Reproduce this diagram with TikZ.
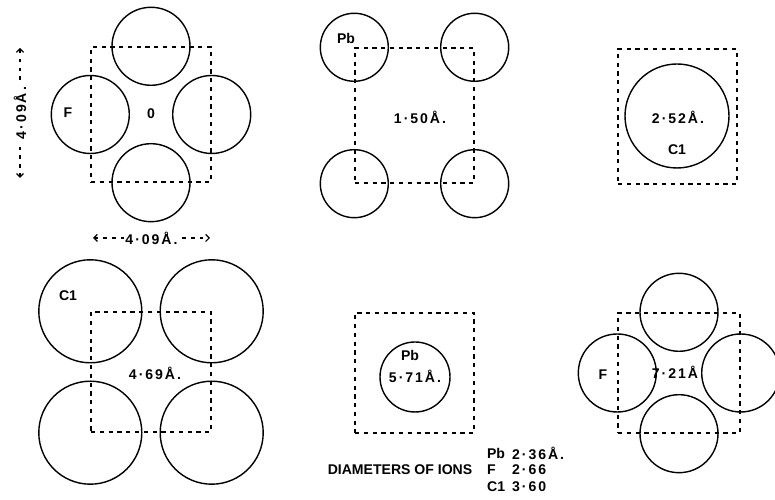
\documentclass[tikz,border=0pt]{standalone}
\usepackage{fontspec}
\setmainfont{Liberation Sans}
\newfontfamily\numfont[LetterSpace=14]{Liberation Sans}
\usetikzlibrary{arrows.meta}

\begin{document}
\begin{tikzpicture}[
    cell/.style={rectangle, draw, dash pattern=on 2.4pt off 2.6pt, line width=0.8pt, inner sep=0pt},
    ion/.style={circle, draw, line width=0.8pt, inner sep=0pt, minimum size=#1},
    lbl/.style={font=\fontsize{8}{9}\selectfont\bfseries, inner sep=1pt},
    num/.style={font=\fontsize{8}{9}\numfont\bfseries, inner sep=1pt},
    dim/.style={{Straight Barb[length=2pt,width=4pt]}-{Straight Barb[length=2pt,width=4pt]}, dash pattern=on 2pt off 3pt, line width=0.7pt},
]
    \useasboundingbox (0,0) rectangle (15.5,10);

    % Height 0 (F)
    \node[cell, minimum width=2.4cm, minimum height=2.7cm] (c0) at (3.02,7.71) {};
    \node[ion=1.56cm] (f0t) at (c0.north) {};
    \node[ion=1.56cm] (f0b) at (c0.south) {};
    \node[ion=1.56cm] (f0l) at (c0.west) {};
    \node[ion=1.56cm] (f0r) at (c0.east) {};
    \node[lbl] (f0lab) at (1.36,7.74) {F};
    \node[lbl] (h0lab) at (3.02,7.72) {0};

    % cell dimensions
    \coordinate (v0a) at (0.40,9.04);
    \coordinate (v0b) at (0.40,6.44);
    \draw[dim] (v0b) -- (v0a) node[midway, num, fill=white, rotate=90] {4·09Å.};
    \coordinate (h0a) at (1.86,5.24);
    \coordinate (h0b) at (4.20,5.24);
    \draw[dim] (h0a) -- (h0b) node[midway, num, fill=white] {4·09Å.};

    % Height 1.50 (Pb)
    \node[cell, minimum width=2.38cm, minimum height=2.7cm] (c1) at (8.29,7.69) {};
    \node[ion=1.36cm] (p1a) at (c1.north west) {};
    \node[ion=1.36cm] (p1b) at (c1.north east) {};
    \node[ion=1.36cm] (p1c) at (c1.south west) {};
    \node[ion=1.36cm] (p1d) at (c1.south east) {};
    \node[lbl] (p1lab) at (6.92,9.24) {Pb};
    \node[num] (h1lab) at (8.40,7.66) {1·50Å.};

    % Height 2.52 (Cl)
    \node[cell, minimum width=2.38cm, minimum height=2.7cm] (c2) at (13.55,7.67) {};
    \node[ion=2.08cm] (l2a) at (13.54,7.68) {};
    \node[num] (h2lab) at (13.56,7.66) {2·52Å.};
    \node[lbl] (l2lab) at (13.54,7.00) {C1};

    % Height 4.69 (Cl)
    \node[cell, minimum width=2.4cm, minimum height=2.4cm] (c3) at (3.02,2.56) {};
    \node[ion=2.06cm] (l3a) at (c3.north west) {};
    \node[ion=2.06cm] (l3b) at (c3.north east) {};
    \node[ion=2.06cm] (l3c) at (c3.south west) {};
    \node[ion=2.06cm] (l3d) at (c3.south east) {};
    \node[lbl] (l3lab) at (1.36,4.08) {C1};
    \node[num] (h3lab) at (3.10,2.54) {4·69Å.};

    % Height 5.71 (Pb)
    \node[cell, minimum width=2.38cm, minimum height=2.4cm] (c4) at (8.29,2.54) {};
    \node[ion=1.40cm] (p4a) at (8.30,2.46) {};
    \node[lbl] (p4lab) at (8.20,2.90) {Pb};
    \node[num] (h4lab) at (8.30,2.48) {5·71Å.};

    % Height 7.21 (F)
    \node[cell, minimum width=2.44cm, minimum height=2.4cm] (c5) at (13.58,2.54) {};
    \node[ion=1.56cm] (f5t) at (c5.north) {};
    \node[ion=1.56cm] (f5b) at (c5.south) {};
    \node[ion=1.56cm] (f5l) at (c5.west) {};
    \node[ion=1.56cm] (f5r) at (c5.east) {};
    \node[lbl] (f5lab) at (12.06,2.50) {F};
    \node[num] (h5lab) at (13.50,2.56) {7·21Å};

    % Key
    \node[lbl] (key) at (8.0,0.60) {DIAMETERS OF IONS};
    \node[lbl, anchor=west] (kpb) at (9.70,0.94) {Pb};
    \node[num, anchor=west] (kpbv) at (10.20,0.94) {2·36Å.};
    \node[lbl, anchor=west] (kf) at (9.70,0.60) {F};
    \node[num, anchor=west] (kfv) at (10.20,0.60) {2·66};
    \node[lbl, anchor=west] (kcl) at (9.70,0.26) {C1};
    \node[num, anchor=west] (kclv) at (10.20,0.26) {3·60};
\end{tikzpicture}
\end{document}
